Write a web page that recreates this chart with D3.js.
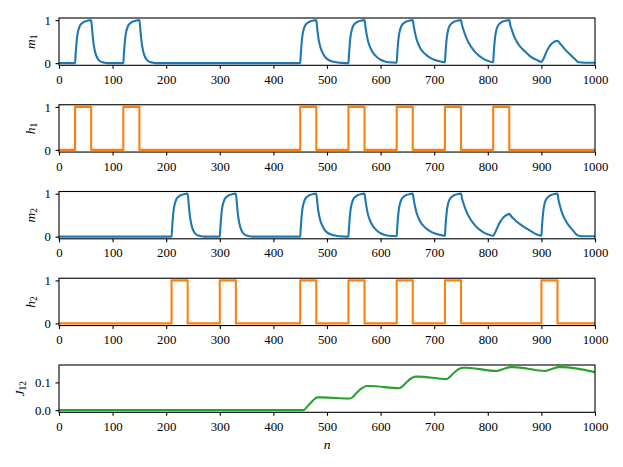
<!DOCTYPE html>
<html>
<head>
<meta charset="utf-8">
<script src="https://cdn.jsdelivr.net/npm/d3@7"></script>
<style>
  body { margin: 0; background: #fff; }
</style>
</head>
<body>
<svg id="chart" width="623" height="467"></svg>
<script>
// x ticks shared by every panel
const xTicks = [0, 100, 200, 300, 400, 500, 600, 700, 800, 900, 1000];

// h1 / h2 : intervals [start, end] where the input is 1
const h1On = [[30, 60], [120, 150], [450, 480], [540, 570], [630, 660], [720, 750], [810, 840]];
const h2On = [[210, 240], [300, 330], [450, 480], [540, 570], [630, 660], [720, 750], [900, 930]];

// m1 as [n, value]
const m1Points = [
  [0, 0], [30, 0],
  [31, 0.2], [32, 0.37], [33, 0.52], [34, 0.63], [36, 0.76], [39, 0.87], [43, 0.93], [48, 0.97], [54, 0.99], [60, 1],
  [62, 0.75], [64, 0.5], [66, 0.34], [68, 0.23], [70, 0.16], [73, 0.09], [76, 0.05], [80, 0.025], [85, 0.01], [90, 0],
  [120, 0],
  [121, 0.2], [122, 0.37], [123, 0.52], [124, 0.63], [126, 0.76], [129, 0.87], [133, 0.93], [138, 0.97], [144, 0.99], [150, 1],
  [152, 0.75], [154, 0.5], [156, 0.34], [158, 0.23], [160, 0.16], [163, 0.09], [166, 0.05], [170, 0.025], [175, 0.01], [180, 0],
  [450, 0],
  [451, 0.2], [452, 0.37], [453, 0.52], [454, 0.63], [456, 0.76], [459, 0.87], [463, 0.93], [468, 0.97], [474, 0.99], [480, 1],
  [482, 0.78], [484, 0.58], [487, 0.4], [490, 0.29], [495, 0.17], [500, 0.1], [505, 0.06], [510, 0.04], [520, 0.015], [530, 0.005], [540, 0],
  [541, 0.2], [542, 0.37], [543, 0.52], [544, 0.63], [546, 0.76], [549, 0.87], [553, 0.93], [558, 0.97], [564, 0.99], [570, 1],
  [572, 0.82], [575, 0.6], [578, 0.45], [582, 0.33], [586, 0.24], [590, 0.18], [595, 0.12], [600, 0.08], [608, 0.04], [615, 0.02], [630, 0.01],
  [631, 0.21], [632, 0.38], [633, 0.52], [634, 0.63], [636, 0.76], [639, 0.87], [643, 0.93], [648, 0.97], [654, 0.99], [660, 1],
  [662, 0.85], [665, 0.66], [668, 0.52], [672, 0.4], [676, 0.31], [680, 0.25], [686, 0.18], [692, 0.13], [700, 0.08], [708, 0.05], [715, 0.03], [720, 0.02],
  [721, 0.22], [722, 0.39], [723, 0.53], [724, 0.64], [726, 0.77], [729, 0.87], [733, 0.93], [738, 0.97], [744, 0.99], [750, 1],
  [752, 0.88], [755, 0.76], [758, 0.65], [762, 0.53], [766, 0.44], [770, 0.36], [775, 0.28], [780, 0.21], [786, 0.15], [792, 0.1], [800, 0.055], [810, 0.02],
  [811, 0.22], [812, 0.39], [813, 0.53], [814, 0.64], [816, 0.77], [819, 0.87], [823, 0.93], [828, 0.97], [834, 0.99], [840, 1],
  [842, 0.88], [845, 0.77], [848, 0.66], [852, 0.55], [856, 0.46], [860, 0.39], [866, 0.31], [872, 0.24], [878, 0.17], [884, 0.12], [892, 0.07], [900, 0.03],
  [903, 0.08], [906, 0.16], [910, 0.28], [914, 0.37], [918, 0.44], [922, 0.48], [926, 0.51], [930, 0.52],
  [934, 0.47], [938, 0.41], [942, 0.35], [947, 0.28], [952, 0.22], [957, 0.16], [962, 0.1], [966, 0.05], [970, 0.02], [980, 0.01], [1000, 0.01]
];

// m2 as [n, value]
const m2Points = [
  [0, 0], [210, 0],
  [211, 0.2], [212, 0.37], [213, 0.52], [214, 0.63], [216, 0.76], [219, 0.87], [223, 0.93], [228, 0.97], [234, 0.99], [240, 1],
  [242, 0.75], [244, 0.5], [246, 0.34], [248, 0.23], [250, 0.16], [253, 0.09], [256, 0.05], [260, 0.025], [265, 0.01], [270, 0],
  [300, 0],
  [301, 0.2], [302, 0.37], [303, 0.52], [304, 0.63], [306, 0.76], [309, 0.87], [313, 0.93], [318, 0.97], [324, 0.99], [330, 1],
  [332, 0.75], [334, 0.5], [336, 0.34], [338, 0.23], [340, 0.16], [343, 0.09], [346, 0.05], [350, 0.025], [355, 0.01], [360, 0],
  [450, 0],
  [451, 0.2], [452, 0.37], [453, 0.52], [454, 0.63], [456, 0.76], [459, 0.87], [463, 0.93], [468, 0.97], [474, 0.99], [480, 1],
  [482, 0.78], [484, 0.58], [487, 0.4], [490, 0.29], [495, 0.17], [500, 0.1], [505, 0.06], [510, 0.04], [520, 0.015], [530, 0.005], [540, 0],
  [541, 0.2], [542, 0.37], [543, 0.52], [544, 0.63], [546, 0.76], [549, 0.87], [553, 0.93], [558, 0.97], [564, 0.99], [570, 1],
  [572, 0.82], [575, 0.6], [578, 0.45], [582, 0.33], [586, 0.24], [590, 0.18], [595, 0.12], [600, 0.08], [608, 0.04], [615, 0.02], [630, 0.01],
  [631, 0.21], [632, 0.38], [633, 0.52], [634, 0.63], [636, 0.76], [639, 0.87], [643, 0.93], [648, 0.97], [654, 0.99], [660, 1],
  [662, 0.85], [665, 0.66], [668, 0.52], [672, 0.4], [676, 0.31], [680, 0.25], [686, 0.18], [692, 0.13], [700, 0.08], [708, 0.05], [715, 0.03], [720, 0.02],
  [721, 0.22], [722, 0.39], [723, 0.53], [724, 0.64], [726, 0.77], [729, 0.87], [733, 0.93], [738, 0.97], [744, 0.99], [750, 1],
  [752, 0.88], [755, 0.76], [758, 0.65], [762, 0.53], [766, 0.44], [770, 0.36], [775, 0.28], [780, 0.21], [786, 0.15], [792, 0.1], [800, 0.055], [810, 0.02],
  [813, 0.08], [816, 0.16], [820, 0.27], [824, 0.36], [828, 0.43], [832, 0.48], [836, 0.51], [840, 0.53],
  [844, 0.47], [848, 0.42], [852, 0.37], [856, 0.33], [860, 0.29], [866, 0.24], [872, 0.19], [880, 0.13], [888, 0.07], [895, 0.035], [900, 0.02],
  [901, 0.22], [902, 0.39], [903, 0.53], [904, 0.64], [906, 0.77], [909, 0.87], [913, 0.93], [918, 0.97], [924, 0.99], [930, 1],
  [932, 0.85], [935, 0.7], [938, 0.57], [942, 0.45], [946, 0.36], [950, 0.28], [955, 0.2], [960, 0.13], [964, 0.07], [968, 0.03], [975, 0.01], [1000, 0.01]
];

// J12 coupling as [n, value]
const jPoints = [
  [0, 0], [455, 0], [458, 0.002], [462, 0.01], [470, 0.027], [478, 0.042], [482, 0.046], [490, 0.046],
  [543, 0.042], [548, 0.047], [556, 0.064], [566, 0.08], [574, 0.087], [580, 0.087],
  [635, 0.079], [640, 0.085], [648, 0.1], [658, 0.116], [665, 0.121], [670, 0.121],
  [723, 0.112], [728, 0.118], [737, 0.135], [748, 0.15], [755, 0.153], [760, 0.153],
  [817, 0.141], [822, 0.144], [832, 0.15], [842, 0.155], [848, 0.155],
  [907, 0.141], [912, 0.144], [922, 0.15], [932, 0.155], [938, 0.155], [1000, 0.137]
];

const mTicks = [0, 1];
const jTicks = [0, 0.1];

// turn on-intervals into a step series
function stepPoints(intervals) {
  const pts = [[0, 0]];
  intervals.forEach(([a, b]) => {
    pts.push([a, 0], [a, 1], [b, 1], [b, 0]);
  });
  pts.push([1000, 0]);
  return pts;
}

const serif = "'Liberation Serif', 'DejaVu Serif', serif";
const svg = d3.select("#chart");
const left = 59, right = 595;
const panelTop = 18, panelStep = 86.75, panelH = 47.3;
const fontSize = 12.8;

const x = d3.scaleLinear().domain([0, 1000]).range([left, right]);

const panels = [
  { name: "m", sub: "1", data: m1Points, color: "#1f77b4", domain: [-0.05, 1.05], ticks: mTicks, fmt: d3.format("d"), lx: 35, curve: d3.curveMonotoneX },
  { name: "h", sub: "1", data: stepPoints(h1On), color: "#ff7f0e", domain: [-0.05, 1.05], ticks: mTicks, fmt: d3.format("d"), lx: 35, curve: d3.curveLinear },
  { name: "m", sub: "2", data: m2Points, color: "#1f77b4", domain: [-0.05, 1.05], ticks: mTicks, fmt: d3.format("d"), lx: 35, curve: d3.curveMonotoneX },
  { name: "h", sub: "2", data: stepPoints(h2On), color: "#ff7f0e", domain: [-0.05, 1.05], ticks: mTicks, fmt: d3.format("d"), lx: 35, curve: d3.curveLinear },
  { name: "J", sub: "12", data: jPoints, color: "#2ca02c", domain: [-0.00775, 0.16275], ticks: jTicks, fmt: d3.format(".1f"), lx: 24, curve: d3.curveMonotoneX }
];

panels.forEach((p, i) => {
  const top = panelTop + i * panelStep;
  const bottom = top + panelH;
  const y = d3.scaleLinear().domain(p.domain).range([bottom, top]);

  svg.append("clipPath").attr("id", "clip" + i)
    .append("rect").attr("x", left).attr("y", top).attr("width", right - left).attr("height", panelH);

  const line = d3.line().x(d => x(d[0])).y(d => y(d[1])).curve(p.curve);

  svg.append("path")
    .datum(p.data)
    .attr("clip-path", `url(#clip${i})`)
    .attr("fill", "none")
    .attr("stroke", p.color)
    .attr("stroke-width", 2.1)
    .attr("stroke-linejoin", "round")
    .attr("d", line);

  // frame
  svg.append("rect")
    .attr("x", left).attr("y", top)
    .attr("width", right - left).attr("height", panelH)
    .attr("fill", "none").attr("stroke", "#000").attr("stroke-width", 1.1);

  const xAxis = svg.append("g")
    .attr("transform", `translate(0,${bottom})`)
    .call(d3.axisBottom(x).tickValues(xTicks).tickFormat(d3.format("d")).tickSize(3.5).tickSizeOuter(0).tickPadding(6));
  xAxis.select(".domain").remove();
  xAxis.attr("font-family", serif).attr("font-size", fontSize);
  xAxis.selectAll("line").attr("stroke-width", 1.1);
  xAxis.selectAll("text").attr("fill", "#000");

  const yAxis = svg.append("g")
    .attr("transform", `translate(${left},0)`)
    .call(d3.axisLeft(y).tickValues(p.ticks).tickFormat(p.fmt).tickSize(3.5).tickSizeOuter(0).tickPadding(4.5));
  yAxis.select(".domain").remove();
  yAxis.attr("font-family", serif).attr("font-size", fontSize);
  yAxis.selectAll("line").attr("stroke-width", 1.1);
  yAxis.selectAll("text").attr("fill", "#000");

  const label = svg.append("text")
    .attr("transform", `translate(${p.lx},${(top + bottom) / 2}) rotate(-90)`)
    .attr("text-anchor", "middle")
    .attr("font-family", serif)
    .attr("font-size", 13.5)
    .attr("font-style", "italic");
  label.append("tspan").text(p.name);
  label.append("tspan").attr("dy", "0.25em").attr("font-size", 9.5).attr("font-style", "normal").text(p.sub);
});

svg.append("text")
  .attr("x", (left + right) / 2)
  .attr("y", 449)
  .attr("text-anchor", "middle")
  .attr("font-family", serif)
  .attr("font-size", 13.5)
  .attr("font-style", "italic")
  .text("n");
</script>
</body>
</html>
